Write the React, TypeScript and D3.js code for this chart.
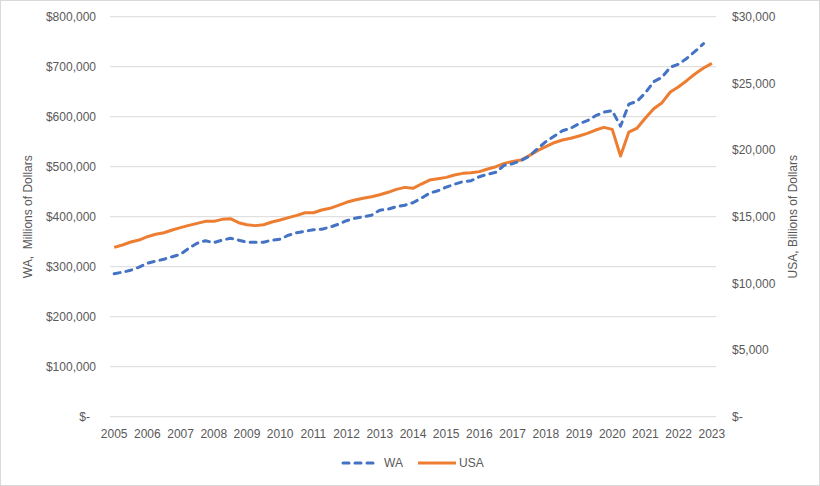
import { line, scaleLinear, scalePoint, format } from "d3";

const WIDTH = 820;
const HEIGHT = 486;
const PLOT = { left: 110, right: 716, top: 16.7, bottom: 416.7 };

const years = [
  "2005", "2006", "2007", "2008", "2009", "2010", "2011", "2012", "2013", "2014",
  "2015", "2016", "2017", "2018", "2019", "2020", "2021", "2022", "2023",
];

// quarterly categories, 2005 Q1 .. 2023 Q1
const quarters = years
  .flatMap((year) => ["Q1", "Q2", "Q3", "Q4"].map((q) => `${year} ${q}`))
  .slice(0, 73);

// WA GDP, millions of dollars (2005 Q1 .. 2022 Q4)
const waValues = [
  286000, 289000, 293000, 299000, 307000, 311000, 315000, 320000,
  325000, 337000, 347000, 352000, 348000, 353000, 357000, 353000,
  349000, 349000, 349000, 353000, 355000, 363000, 368000, 371000,
  374000, 375000, 379000, 385000, 392000, 397000, 400000, 403000,
  413000, 415000, 420000, 423000, 428000, 437000, 447000, 452000,
  459000, 465000, 470000, 472000, 480000, 485000, 489000, 503000,
  506000, 512000, 521000, 536000, 550000, 561000, 572000, 577000,
  586000, 592000, 602000, 609000, 612000, 581000, 625000, 631000,
  648000, 670000, 679000, 699000, 705000, 717000, 731000, 746000,
];

// USA GDP, billions of dollars (2005 Q1 .. 2023 Q1)
const usaValues = [
  12700, 12880, 13100, 13250, 13500, 13680, 13800, 14000,
  14180, 14350, 14500, 14650, 14650, 14800, 14850, 14550,
  14400, 14330, 14400, 14600, 14750, 14930, 15100, 15300,
  15300, 15500, 15630, 15850, 16080, 16250, 16380, 16500,
  16650, 16830, 17050, 17200, 17130, 17450, 17750, 17850,
  17950, 18130, 18250, 18300, 18380, 18580, 18750, 19000,
  19150, 19250, 19580, 19950, 20250, 20550, 20750, 20880,
  21050, 21250, 21500, 21700, 21550, 19550, 21350, 21650,
  22400, 23100, 23550, 24350, 24750, 25220, 25720, 26150,
  26500,
];

const leftTicks = [0, 100000, 200000, 300000, 400000, 500000, 600000, 700000, 800000];
const rightTicks = [0, 5000, 10000, 15000, 20000, 25000, 30000];

const TEXT = "#595959";
const GRID = "#d9d9d9";
const BLUE = "#4472C4";
const ORANGE = "#ED7D31";
const FONT = "'Liberation Sans', Arial, sans-serif";

const money = format(",");
const tickText = (v: number) => (v === 0 ? "$-" : `$${money(v)}`);

export default function App() {
  const x = scalePoint<string>()
    .domain(quarters)
    .range([PLOT.left, PLOT.right])
    .padding(0.5);

  const yLeft = scaleLinear().domain([0, 800000]).range([PLOT.bottom, PLOT.top]);
  const yRight = scaleLinear().domain([0, 30000]).range([PLOT.bottom, PLOT.top]);

  const waPath = line<number>()
    .x((_, i) => x(quarters[i]) ?? 0)
    .y((v) => yLeft(v))(waValues);

  const usaPath = line<number>()
    .x((_, i) => x(quarters[i]) ?? 0)
    .y((v) => yRight(v))(usaValues);

  const midY = (PLOT.top + PLOT.bottom) / 2;

  return (
    <>
      <style>{`body{margin:0}`}</style>
      <svg width={WIDTH} height={HEIGHT} viewBox={`0 0 ${WIDTH} ${HEIGHT}`} style={{ display: "block" }}>
        <rect x="0.5" y="0.5" width={WIDTH - 1} height={HEIGHT - 1} fill="#fff" stroke={GRID} />

        {leftTicks.map((t) => (
          <line
            key={`g${t}`}
            x1={PLOT.left}
            x2={PLOT.right}
            y1={yLeft(t)}
            y2={yLeft(t)}
            stroke={GRID}
            strokeWidth={1}
          />
        ))}

        <g fontFamily={FONT} fontSize={12} fill={TEXT}>
          {leftTicks.map((t) => (
            <text
              key={`l${t}`}
              x={t === 0 ? 90 : 96}
              y={yLeft(t)}
              dy="0.35em"
              textAnchor="end"
            >
              {tickText(t)}
            </text>
          ))}
          {rightTicks.map((t) => (
            <text key={`r${t}`} x={732} y={yRight(t)} dy="0.35em" textAnchor="start">
              {tickText(t)}
            </text>
          ))}
          {quarters
            .filter((q) => q.endsWith("Q1"))
            .map((q) => (
              <text key={q} x={x(q)} y={434} dy="0.35em" textAnchor="middle">
                {q.slice(0, 4)}
              </text>
            ))}
          <text
            transform={`translate(28,${midY}) rotate(-90)`}
            dy="0.35em"
            textAnchor="middle"
            style={{ whiteSpace: "pre" }}
          >
            {"WA,  Millions of Dollars"}
          </text>
          <text transform={`translate(793,${midY}) rotate(-90)`} dy="0.35em" textAnchor="middle">
            USA, Billions of Dollars
          </text>
        </g>

        <path d={usaPath ?? ""} fill="none" stroke={ORANGE} strokeWidth={3} strokeLinejoin="round" />
        <path
          d={waPath ?? ""}
          fill="none"
          stroke={BLUE}
          strokeWidth={3}
          strokeDasharray="6 6"
          strokeLinecap="round"
          strokeLinejoin="round"
        />

        {/* legend */}
        <g fontFamily={FONT} fontSize={12} fill={TEXT}>
          <line
            x1={343}
            x2={378}
            y1={463}
            y2={463}
            stroke={BLUE}
            strokeWidth={3}
            strokeDasharray="6 6"
            strokeLinecap="round"
          />
          <text x={384} y={463} dy="0.35em">WA</text>
          <line x1={418} x2={456} y1={463} y2={463} stroke={ORANGE} strokeWidth={3} />
          <text x={459} y={463} dy="0.35em">USA</text>
        </g>
      </svg>
    </>
  );
}
